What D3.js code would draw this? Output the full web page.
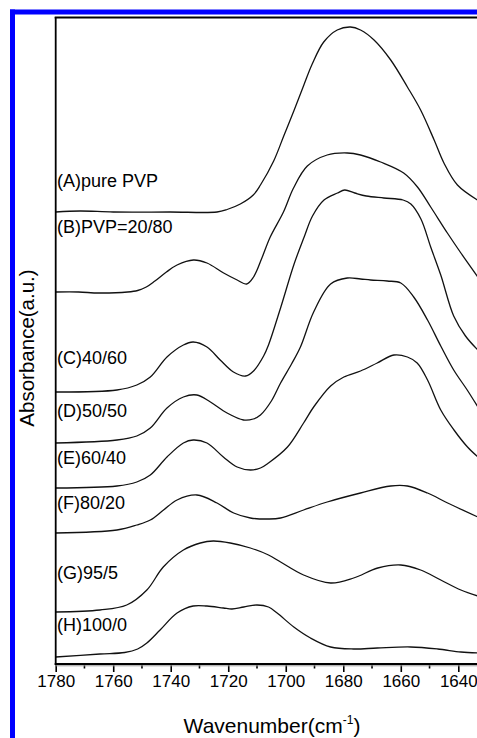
<!DOCTYPE html>
<html>
<head>
<meta charset="utf-8">
<script src="https://cdn.jsdelivr.net/npm/d3@7"></script>
<style>
  html, body { margin: 0; padding: 0; background: #fff; }
  svg { display: block; font-family: "Liberation Sans", Arial, sans-serif; }
</style>
</head>
<body>
<div id="chart"></div>
<script>
// --- data (wavenumber cm-1 / absorbance a.u., stacked offsets as in the figure) ---
const seriesLabels = ['(A)pure PVP', '(B)PVP=20/80', '(C)40/60', '(D)50/50', '(E)60/40', '(F)80/20', '(G)95/5', '(H)100/0'];

const waveA = [1780, 1771.5, 1760, 1740.2, 1723.9, 1720.4, 1715.8, 1711.3, 1708.8, 1704.2, 1700.7, 1697.2, 1693.7, 1690.8, 1686.8, 1682.1, 1677.5, 1674, 1669.3, 1663.5, 1657.7, 1653.1, 1648.4, 1645, 1640.3, 1633.3];
const absA  = [4.52, 4.53, 4.52, 4.52, 4.52, 4.545, 4.60, 4.69, 4.79, 5.03, 5.28, 5.53, 5.79, 6.00, 6.22, 6.34, 6.37, 6.34, 6.24, 6.04, 5.77, 5.54, 5.24, 5.01, 4.79, 4.64];

const waveB = [1780, 1772, 1765, 1755, 1751.5, 1748.5, 1745.5, 1741.5, 1737.8, 1732.1, 1727.4, 1721.6, 1716.9, 1713.6, 1711.2, 1708.3, 1705.4, 1700.8, 1697.3, 1692.5, 1685.6, 1678.6, 1674, 1667, 1659, 1654.2, 1649.6, 1643.8, 1639.1, 1633.2];
const absB  = [3.72, 3.72, 3.71, 3.72, 3.735, 3.77, 3.83, 3.92, 3.99, 4.04, 4.01, 3.91, 3.84, 3.80, 3.87, 4.06, 4.27, 4.52, 4.76, 4.98, 5.09, 5.11, 5.09, 5.02, 4.91, 4.77, 4.57, 4.31, 4.11, 3.87];

const waveC = [1780, 1758.7, 1751.8, 1747.1, 1741.3, 1735.6, 1732.2, 1727.4, 1722.8, 1718.2, 1714, 1711.2, 1707.7, 1706, 1701.7, 1697.1, 1693.6, 1690.7, 1686.7, 1682, 1679.5, 1676, 1672, 1665.9, 1659.2, 1656.5, 1653, 1649.6, 1646.1, 1641.6, 1637.5, 1633.2];
const absC  = [2.72, 2.74, 2.79, 2.87, 3.07, 3.19, 3.22, 3.17, 3.04, 2.92, 2.88, 2.93, 3.08, 3.19, 3.57, 4.00, 4.27, 4.48, 4.64, 4.71, 4.74, 4.71, 4.68, 4.66, 4.64, 4.60, 4.45, 4.17, 3.89, 3.48, 3.28, 3.14];

const waveD = [1780, 1758.7, 1751.8, 1747.1, 1741.3, 1735.6, 1730.9, 1726.2, 1720.4, 1714.7, 1711.3, 1708.8, 1705, 1701.8, 1698, 1694.9, 1690.3, 1684.4, 1678.6, 1674, 1670.5, 1664.7, 1660, 1655.5, 1650.7, 1646.1, 1641.6, 1636.9, 1633.2];
const absD  = [2.21, 2.24, 2.28, 2.36, 2.56, 2.67, 2.69, 2.62, 2.51, 2.44, 2.45, 2.49, 2.63, 2.81, 3.00, 3.17, 3.52, 3.80, 3.86, 3.85, 3.84, 3.83, 3.81, 3.67, 3.44, 3.18, 2.94, 2.74, 2.57];

const waveE = [1780, 1758.7, 1751.8, 1747.1, 1741.3, 1735.6, 1732.2, 1727.4, 1721.7, 1716.9, 1712.3, 1708.8, 1706, 1699.4, 1693.8, 1690.3, 1684.4, 1679.8, 1674, 1668.2, 1662.4, 1657.7, 1654.3, 1650.7, 1646.1, 1641.5, 1636.8, 1633.2];
const absE  = [1.76, 1.78, 1.82, 1.89, 2.07, 2.21, 2.24, 2.21, 2.07, 1.97, 1.94, 1.96, 2.01, 2.17, 2.41, 2.57, 2.78, 2.87, 2.93, 3.01, 3.09, 3.07, 3.01, 2.84, 2.54, 2.34, 2.17, 2.07];

const waveF = [1780, 1758.7, 1751.8, 1747.1, 1742.5, 1737.8, 1730.9, 1723.9, 1718.1, 1712.3, 1706, 1701.8, 1693.8, 1685.6, 1674, 1663.5, 1657.7, 1650.7, 1643.7, 1633.2];
const absF  = [1.31, 1.34, 1.39, 1.44, 1.54, 1.64, 1.69, 1.61, 1.51, 1.46, 1.45, 1.46, 1.54, 1.62, 1.71, 1.78, 1.78, 1.71, 1.61, 1.47];

const waveG = [1780, 1764.6, 1755.3, 1748.3, 1742.6, 1735.6, 1729.7, 1725.2, 1719.3, 1712.3, 1706, 1701.8, 1693.8, 1684.4, 1676.4, 1668, 1660, 1653.1, 1646.1, 1639.1, 1633.2];
const absG  = [0.52, 0.54, 0.59, 0.74, 0.97, 1.14, 1.21, 1.23, 1.21, 1.16, 1.09, 1.02, 0.89, 0.81, 0.86, 0.96, 0.99, 0.94, 0.84, 0.74, 0.68];

const waveH = [1780, 1764.6, 1756, 1751.5, 1748.3, 1743.7, 1737.8, 1732.2, 1727.4, 1721.7, 1718.7, 1714.6, 1710, 1706, 1703, 1697.2, 1691.4, 1684.4, 1676.4, 1668.2, 1656.6, 1647.2, 1639.1, 1633.2];
const absH  = [0.07, 0.10, 0.115, 0.15, 0.21, 0.34, 0.51, 0.58, 0.58, 0.56, 0.55, 0.57, 0.59, 0.57, 0.51, 0.37, 0.26, 0.17, 0.15, 0.16, 0.17, 0.15, 0.12, 0.11];

const majorTicks = [1780, 1760, 1740, 1720, 1700, 1680, 1660, 1640];
const minorTicks = [1770, 1750, 1730, 1710, 1690, 1670, 1650];

const waves = [waveA, waveB, waveC, waveD, waveE, waveF, waveG, waveH];
const absorbances = [absA, absB, absC, absD, absE, absF, absG, absH];

// --- layout ---
const width = 477;
const height = 738;
const plot = { left: 55.7, top: 18, bottom: 664, right: 477 };

// label baselines, in absorbance units of the stacked plot
const labelLevels = [4.77, 4.315, 3.0, 2.47, 2.0, 1.555, 0.85, 0.335];

const svg = d3.select('#chart').append('svg')
  .attr('width', width)
  .attr('height', height);

svg.append('rect').attr('width', width).attr('height', height).attr('fill', '#fff');

// blue frame (left and top)
svg.append('rect').attr('x', 10).attr('y', 9.5).attr('width', 5).attr('height', height).attr('fill', '#0000ff');
svg.append('rect').attr('x', 10).attr('y', 9.5).attr('width', width - 10).attr('height', 5).attr('fill', '#0000ff');

const x = d3.scaleLinear().domain([1780, 1640]).range([plot.left, 458.3]);
const y = d3.scaleLinear().domain([0, 6.46]).range([plot.bottom, plot.top]);

svg.append('clipPath').attr('id', 'plot-clip')
  .append('rect')
  .attr('x', plot.left).attr('y', plot.top)
  .attr('width', plot.right - plot.left).attr('height', plot.bottom - plot.top);

// curves
const line = d3.line()
  .x(d => x(d[0]))
  .y(d => y(d[1]))
  .curve(d3.curveCatmullRom.alpha(0.5));

const curves = svg.append('g').attr('clip-path', 'url(#plot-clip)');
waves.forEach((w, i) => {
  const pts = w.map((v, j) => [v, absorbances[i][j]]);
  curves.append('path')
    .datum(pts)
    .attr('d', line)
    .attr('fill', 'none')
    .attr('stroke', '#111')
    .attr('stroke-width', 1.3);
});

// curve labels
svg.append('g').selectAll('text')
  .data(seriesLabels)
  .join('text')
  .attr('x', 57)
  .attr('y', (d, i) => y(labelLevels[i]))
  .attr('font-size', 18)
  .attr('fill', '#000')
  .text(d => d);

// top frame line and left axis
svg.append('line')
  .attr('x1', plot.left - 1).attr('x2', width)
  .attr('y1', 17.6).attr('y2', 17.6)
  .attr('stroke', '#000').attr('stroke-width', 2);
svg.append('line')
  .attr('x1', plot.left).attr('x2', plot.left)
  .attr('y1', 17).attr('y2', plot.bottom + 1)
  .attr('stroke', '#000').attr('stroke-width', 1.8);

// bottom axis
const xAxis = d3.axisBottom(x)
  .tickValues(majorTicks)
  .tickSize(8)
  .tickPadding(3)
  .tickFormat(d3.format('d'));

const gx = svg.append('g')
  .attr('transform', `translate(0,${plot.bottom})`)
  .call(xAxis);
gx.select('.domain').remove();
gx.selectAll('.tick line').attr('stroke', '#000').attr('stroke-width', 1.6);
gx.selectAll('.tick text')
  .attr('font-size', 17)
  .attr('font-family', '"Liberation Sans", Arial, sans-serif')
  .attr('fill', '#000');

gx.selectAll('.minor')
  .data(minorTicks)
  .join('line')
  .attr('class', 'minor')
  .attr('x1', d => x(d)).attr('x2', d => x(d))
  .attr('y1', 0).attr('y2', 4.5)
  .attr('stroke', '#000').attr('stroke-width', 1.6);

svg.append('line')
  .attr('x1', plot.left - 1).attr('x2', width)
  .attr('y1', plot.bottom).attr('y2', plot.bottom)
  .attr('stroke', '#000').attr('stroke-width', 2);
svg.append('line')
  .attr('x1', plot.left).attr('x2', width)
  .attr('y1', plot.bottom + 1.8).attr('y2', plot.bottom + 1.8)
  .attr('stroke', '#999').attr('stroke-width', 1);

// axis titles
const xTitle = svg.append('text')
  .attr('x', 272)
  .attr('y', 733)
  .attr('text-anchor', 'middle')
  .attr('font-size', 21)
  .attr('fill', '#000');
xTitle.append('tspan').text('Wavenumber(cm');
xTitle.append('tspan').attr('font-size', 12).attr('dy', -9).text('-1');
xTitle.append('tspan').attr('dy', 9).text(')');

svg.append('text')
  .attr('transform', 'translate(34,348) rotate(-90)')
  .attr('text-anchor', 'middle')
  .attr('font-size', 20.5)
  .attr('fill', '#000')
  .text('Absorbance(a.u.)');
</script>
</body>
</html>
